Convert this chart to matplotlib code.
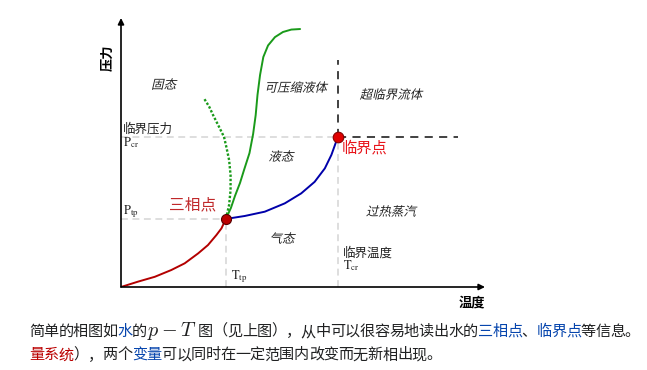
import matplotlib
matplotlib.use("Agg")
import matplotlib.pyplot as plt
from matplotlib.textpath import TextPath
from matplotlib.patches import PathPatch
from matplotlib.font_manager import FontProperties
from matplotlib.transforms import Affine2D

plt.rcParams['font.family'] = ['Noto Sans CJK SC', 'DejaVu Sans']

# phase diagram data (arbitrary units, 0-100 on both axes)
T_tp, P_tp = 28.8, 25.3          # triple point
T_cr, P_cr = 59.5, 55.9          # critical point

# sublimation curve (solid-gas)
sub_T = [0.0, 4.7, 9.3, 13.8, 17.5, 21.2, 23.9, 26.2, 27.6, T_tp]
sub_P = [0.0, 2.0, 3.8, 6.3, 8.8, 12.5, 15.6, 19.3, 21.8, P_tp]

# vaporization curve (liquid-gas)
vap_T = [T_tp, 34.0, 39.5, 45.0, 49.5, 53.2, 56.0, 57.8, 59.1, T_cr]
vap_P = [P_tp, 26.4, 28.0, 31.1, 34.8, 39.1, 44.1, 49.1, 54.0, P_cr]

# melting curve (solid-liquid), normal substance
melt_T = [T_tp, 30.2, 31.3, 32.7, 33.8, 35.3, 36.3, 37.0, 37.5, 38.2, 39.1, 40.4, 42.3, 44.5, 46.8, 49.2]
melt_P = [P_tp, 29.4, 33.8, 38.7, 43.5, 49.8, 56.9, 63.9, 71.4, 78.8, 85.5, 89.8, 92.9, 94.8, 95.7, 95.9]

# melting curve, anomalous (water)
melt_w_T = [T_tp, 29.7, 30.1, 30.1, 29.7, 29.0, 28.3, 26.8, 25.3, 24.2, 22.9]
melt_w_P = [P_tp, 30.5, 36.1, 41.6, 47.2, 51.7, 55.8, 59.9, 63.9, 67.1, 69.9]

# supercritical boundaries
sc_P_top = 84.4
sc_T_right = 92.6

W, H = 647, 370
fig = plt.figure(figsize=(W / 100, H / 100), dpi=100)
cjk = FontProperties(family='Noto Sans CJK SC')


def fpos(x, y):
    # pixel (from top-left) -> figure fraction
    return x / W, 1 - y / H


def slanted(x, y, s, size=9, color='#222222', angle=13):
    # oblique CJK text, centred on pixel (x, y)
    tp = TextPath((0, 0), s, size=size, prop=cjk)
    bb = tp.get_extents()
    tr = (Affine2D().translate(-(bb.x0 + bb.x1) / 2, -(bb.y0 + bb.y1) / 2)
          .skew_deg(angle, 0).scale(100 / 72).translate(x, H - y))
    fig.add_artist(PathPatch(tp, transform=tr, fc=color, ec='none', lw=0))


ax = fig.add_axes([121 / W, (H - 287) / H, 364 / W, 269 / H])
ax.set_xlim(0, 100)
ax.set_ylim(0, 100)
ax.axis('off')

# guide lines
light = dict(color='#d4d4d4', lw=1.1, linestyle=(0, (4.5, 3)), zorder=1)
ax.plot([0, T_cr], [P_cr, P_cr], **light)
ax.plot([0, T_tp], [P_tp, P_tp], **light)
ax.plot([T_tp, T_tp], [0, P_tp], **light)
ax.plot([T_cr, T_cr], [0, P_cr], **light)

dark = dict(color='#333333', lw=1.3, linestyle=(0, (4.5, 3.5)), zorder=1)
ax.plot([T_cr, T_cr], [P_cr, sc_P_top], **dark)
ax.plot([T_cr, sc_T_right], [P_cr, P_cr], **dark)

# curves
curve = dict(lw=1.4, zorder=3, solid_capstyle='round', solid_joinstyle='round')
ax.plot(sub_T, sub_P, color='#b30000', **curve)
ax.plot(vap_T, vap_P, color='#0000aa', **curve)
ax.plot(melt_T, melt_P, color='#1a9a1a', **curve)
ax.plot(melt_w_T, melt_w_P, color='#1a9a1a', lw=1.7, linestyle=(0, (1.0, 0.8)), zorder=3)

# special points
ax.plot([T_tp], [P_tp], 'o', ms=7.2, mfc='#bb0000', mec='#550000', mew=0.8, zorder=5)
ax.plot([T_cr], [P_cr], 'o', ms=7.6, mfc='#e00000', mec='#880000', mew=0.8, zorder=5)

# axes with arrows
arr = dict(arrowstyle='-|>', mutation_scale=9, lw=1.2, color='black', shrinkA=0, shrinkB=0)
ax.annotate('', xy=(100, 0), xytext=(0, 0), arrowprops=arr, annotation_clip=False)
ax.annotate('', xy=(0, 100), xytext=(0, 0), arrowprops=arr, annotation_clip=False)

# labels
fig.text(*fpos(108, 58), '压力', rotation=90, fontsize=9.5, fontweight='bold', ha='center', va='center')
fig.text(*fpos(472, 302), '温度', fontsize=9.5, fontweight='bold', ha='center', va='center')

slanted(165, 84, '固态')
slanted(297, 87, '可压缩液体')
slanted(392, 94, '超临界流体')
slanted(282, 156, '液态')
slanted(283, 238, '气态')
slanted(392, 211, '过热蒸汽')

fig.text(*fpos(123, 129), '临界压力', fontsize=9, ha='left', va='center', color='#222222')
fig.text(*fpos(343, 253), '临界温度', fontsize=9, ha='left', va='center', color='#222222')

sym = dict(fontsize=9, math_fontfamily='stix', color='#222222', va='center', ha='left')
fig.text(*fpos(123, 143), r'$\mathrm{P_{cr}}$', **sym)
fig.text(*fpos(123, 212), r'$\mathrm{P_{tp}}$', **sym)
fig.text(*fpos(343, 266), r'$\mathrm{T_{cr}}$', **sym)
fig.text(*fpos(231, 277), r'$\mathrm{T_{tp}}$', **sym)

fig.text(*fpos(193, 205), '三相点', fontsize=11.3, color='#c0282a', ha='center', va='center')
fig.text(*fpos(365, 148), '临界点', fontsize=11, color='#e8141a', ha='center', va='center')

# caption below the figure (full-width characters, one em each)
black, blue, red = '#202122', '#0645ad', '#ba0000'
line1 = [('简单的相图如', black), ('水', blue), ('的', black), (r'$p-T$', black),
         ('图（见上图），从中可以很容易地读出水的', black), ('三相点', blue), ('、', black),
         ('临界点', blue), ('等信息。', black)]
line2 = [('量系统', red), ('），两个', black), ('变量', blue),
         ('可以同时在一定范围内改变而无新相出现。', black)]

em = 14.73
math_slot = 51


def write_line(pieces, x0, baseline):
    x = x0
    for s, c in pieces:
        if s.startswith('$'):
            fig.text((x + math_slot / 2) / W, 1 - baseline / H, s, fontsize=14.5,
                     math_fontfamily='cm', color=c, ha='center', va='baseline')
            x += math_slot
            continue
        for ch in s:
            fig.text((x + em / 2) / W, 1 - baseline / H, ch, fontsize=10.9, color=c,
                     ha='center', va='baseline')
            x += em


write_line(line1, 29, 336)
write_line(line2, 29, 359.5)

fig.savefig('out.png', dpi=100)
